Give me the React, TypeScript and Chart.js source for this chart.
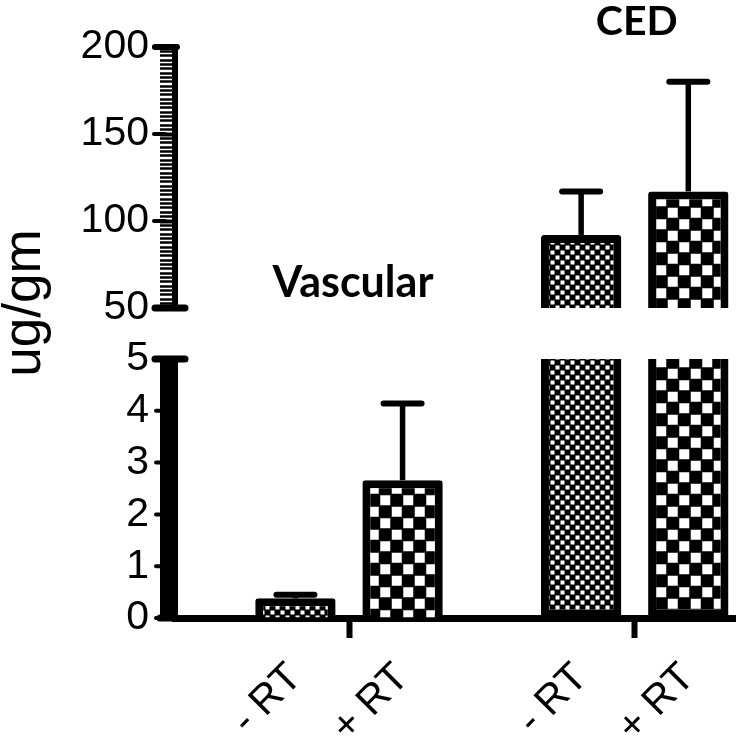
import React, { useEffect, useRef } from 'react';
import { Chart, registerables } from 'chart.js';

Chart.register(...registerables);

// ---- data ----
const groups = ['Vascular', 'CED'];
const seriesLabels = ['- RT', '+ RT'];
const minusRT = [0.38, 92];
const plusRT = [2.66, 117];
const minusRTErr = [0.07, 25];
const plusRTErr = [1.48, 63];
const lowTicks = [0, 1, 2, 3, 4, 5];
const highTicks = [50, 100, 150, 200];
const yTitle = 'ug/gm';

// ---- axis ranges ----
const LOW_MIN = 0;
const LOW_MAX = 5;
const HIGH_MIN = 50;
const HIGH_MAX = 200;
const LOW_MINOR_PER_UNIT = 20;
const HIGH_MINOR_STEP = 2.5;

// ---- layout ----
const X_MIN = -0.609;
const X_MAX = 1.351;
const CAT_PCT = 0.75;
const BAR_PCT = 0.75;

function makePattern(cell: number, dot: number): CanvasPattern | string {
  const c = document.createElement('canvas');
  const size = Math.round(cell * 2);
  c.width = size;
  c.height = size;
  const g = c.getContext('2d');
  if (!g) return '#000';
  g.fillStyle = '#000';
  g.fillRect(0, 0, size, size);
  g.fillStyle = '#fff';
  const m = (cell - dot) / 2;
  g.fillRect(m, m, dot, dot);
  g.fillRect(cell + m, cell + m, dot, dot);
  return g.createPattern(c, 'repeat') || '#000';
}

export default function App() {
  const ref = useRef<HTMLCanvasElement | null>(null);

  useEffect(() => {
    if (!ref.current) return;
    const fine = makePattern(5, 4);
    const coarse = makePattern(11.5, 10);
    const series = [
      { label: seriesLabels[0], values: minusRT, errors: minusRTErr, pattern: fine },
      { label: seriesLabels[1], values: plusRT, errors: plusRTErr, pattern: coarse },
    ];

    const datasets: any[] = [];
    series.forEach((s, si) => {
      const common = {
        label: s.label,
        stack: 's' + si,
        xAxisID: 'x',
        backgroundColor: s.pattern,
        borderColor: '#000',
        borderWidth: 8,
        borderRadius: 3,
        categoryPercentage: CAT_PCT,
        barPercentage: BAR_PCT,
      };
      datasets.push({
        ...common,
        yAxisID: 'yLow',
        data: s.values.map((v, i) => ({ x: i, y: Math.min(v, LOW_MAX) })),
        borderSkipped: (c: any) => (s.values[c.dataIndex] > LOW_MAX ? 'top' : 'bottom'),
      });
      datasets.push({
        ...common,
        yAxisID: 'yHigh',
        data: s.values.map((v, i) => ({ x: i, y: v > HIGH_MIN ? [HIGH_MIN, v] : null })),
        borderSkipped: 'bottom',
      });
    });

    const barCenters: number[] = [];
    const barLabels: string[] = [];
    groups.forEach((_, gi) => {
      series.forEach((s, si) => {
        barCenters.push(gi + (si - (series.length - 1) / 2) * (CAT_PCT / series.length));
        barLabels.push(s.label);
      });
    });

    const tickFont = { family: '"Liberation Sans", Arial, sans-serif', size: 41 };
    const isMajor = (v: number) => lowTicks.includes(v) || highTicks.includes(v);
    const makeGrid = (minorW: number) => ({
      display: true,
      drawOnChartArea: false,
      drawTicks: true,
      tickLength: 15,
      color: '#000',
      tickColor: '#000',
      tickWidth: (c: any) => (c.tick && isMajor(c.tick.value) ? 4 : minorW),
    });

    const decor = {
      id: 'decor',
      afterDatasetsDraw(chart: any) {
        const ctx = chart.ctx;
        const yLow = chart.scales.yLow;
        const yHigh = chart.scales.yHigh;
        ctx.save();
        ctx.strokeStyle = '#000';
        series.forEach((s, si) => {
          s.values.forEach((v, i) => {
            const hi = v > LOW_MAX;
            const meta = chart.getDatasetMeta(si * 2 + (hi ? 1 : 0));
            const el = meta.data[i];
            if (!el) return;
            const sc = hi ? yHigh : yLow;
            const yTop = sc.getPixelForValue(v);
            const yE = sc.getPixelForValue(v + s.errors[i]);
            ctx.lineWidth = 5.5;
            ctx.lineCap = 'butt';
            ctx.beginPath();
            ctx.moveTo(el.x, yTop);
            ctx.lineTo(el.x, yE);
            ctx.stroke();
            ctx.lineWidth = 6;
            ctx.lineCap = 'round';
            ctx.beginPath();
            ctx.moveTo(el.x - 19, yE);
            ctx.lineTo(el.x + 19, yE);
            ctx.stroke();
          });
        });
        ctx.restore();
      },
      afterDraw(chart: any) {
        const ctx = chart.ctx;
        const yLow = chart.scales.yLow;
        const yHigh = chart.scales.yHigh;
        const xs = chart.scales.x;
        const L = chart.chartArea.left;
        ctx.save();
        ctx.strokeStyle = '#000';
        ctx.fillStyle = '#000';
        ctx.lineCap = 'round';
        // major tick knobs
        ctx.lineWidth = 4;
        highTicks.forEach((v) => {
          const py = yHigh.getPixelForValue(v);
          ctx.beginPath();
          ctx.moveTo(L - 21, py);
          ctx.lineTo(L - 10, py);
          ctx.stroke();
        });
        lowTicks.forEach((v) => {
          const py = yLow.getPixelForValue(v);
          ctx.beginPath();
          ctx.moveTo(L - 19, py);
          ctx.lineTo(L - 10, py);
          ctx.stroke();
        });
        // x axis extension to the left
        ctx.lineWidth = 7;
        const p0 = yLow.getPixelForValue(LOW_MIN);
        ctx.beginPath();
        ctx.moveTo(L - 15, p0);
        ctx.lineTo(L, p0);
        ctx.stroke();
        // break caps
        ctx.lineWidth = 7;
        [yHigh.getPixelForValue(HIGH_MIN), yLow.getPixelForValue(LOW_MAX)].forEach((py) => {
          ctx.beginPath();
          ctx.moveTo(L - 20, py);
          ctx.lineTo(L + 10, py);
          ctx.stroke();
        });
        ctx.lineWidth = 6;
        const pTop = yHigh.getPixelForValue(HIGH_MAX);
        ctx.beginPath();
        ctx.moveTo(L - 20, pTop);
        ctx.lineTo(L + 2, pTop);
        ctx.stroke();
        // group titles
        ctx.textAlign = 'center';
        ctx.textBaseline = 'middle';
        ctx.font = '700 43px Lato';
        ctx.fillText(groups[0], xs.getPixelForValue(0) + 4, yHigh.getPixelForValue(HIGH_MIN) - 25);
        ctx.font = '700 41px Lato';
        ctx.fillText(groups[1], xs.getPixelForValue(1) + 2, chart.chartArea.top - 25);
        // y title
        ctx.translate(25, chart.chartArea.top + 256);
        ctx.rotate(-Math.PI / 2);
        ctx.font = '53px "Liberation Sans"';
        ctx.fillText(yTitle, 0, 0);
        ctx.restore();
      },
    };

    const chart = new Chart(ref.current, {
      type: 'bar',
      data: { datasets },
      options: {
        animation: false,
        responsive: false,
        devicePixelRatio: 1,
        layout: { padding: { left: 0, right: 14, top: 47, bottom: 0 } },
        plugins: { legend: { display: false }, tooltip: { enabled: false } },
        scales: {
          x: {
            type: 'linear',
            position: 'bottom',
            min: X_MIN,
            max: X_MAX,
            offset: false,
            grid: { display: true, offset: false, drawOnChartArea: false, drawTicks: true, tickLength: 20, tickWidth: 6, tickColor: '#000', color: '#000' },
            border: { display: true, width: 7, color: '#000' },
            ticks: { display: false },
            afterBuildTicks: (s: any) => { s.ticks = groups.map((_, i) => ({ value: i })); },
            afterFit: (s: any) => { s.height = 20; },
          },
          x2: {
            type: 'linear',
            position: 'bottom',
            min: X_MIN,
            max: X_MAX,
            offset: false,
            grid: { display: false },
            border: { display: false },
            ticks: {
              autoSkip: false,
              minRotation: 45,
              maxRotation: 45,
              padding: 8,
              color: '#000',
              font: { family: '"Liberation Sans", Arial, sans-serif', size: 41 },
              callback: (_v: any, i: number) => barLabels[i],
            },
            afterBuildTicks: (s: any) => { s.ticks = barCenters.map((v) => ({ value: v })); },
            afterFit: (s: any) => { s.height = 100; },
          },
          yLow: {
            type: 'linear',
            position: 'left',
            stack: 'y',
            stackWeight: 259,
            min: LOW_MIN,
            max: LOW_MAX,
            stacked: false,
            beginAtZero: false,
            grid: makeGrid(3.5),
            border: { display: true, width: 6, color: '#000' },
            ticks: {
              autoSkip: false,
              padding: 11,
              color: '#000',
              font: tickFont,
              callback: (v: any) => (lowTicks.includes(v) ? String(v) : ''),
            },
            afterBuildTicks: (s: any) => {
              const t: any[] = [];
              for (let i = LOW_MIN * LOW_MINOR_PER_UNIT; i <= LOW_MAX * LOW_MINOR_PER_UNIT; i++) t.push({ value: i / LOW_MINOR_PER_UNIT });
              s.ticks = t;
            },
            afterFit: (s: any) => { s.width = 175; },
          },
          yGap: {
            type: 'linear',
            position: 'left',
            stack: 'y',
            stackWeight: 51,
            min: 0,
            max: 1,
            grid: { display: false },
            border: { display: false },
            ticks: { display: false },
            afterFit: (s: any) => { s.width = 175; },
          },
          yHigh: {
            type: 'linear',
            position: 'left',
            stack: 'y',
            stackWeight: 261,
            min: HIGH_MIN,
            max: HIGH_MAX,
            stacked: false,
            beginAtZero: false,
            grid: makeGrid(2.5),
            border: { display: true, width: 6, color: '#000' },
            ticks: {
              autoSkip: false,
              padding: 11,
              color: '#000',
              font: tickFont,
              callback: (v: any) => (highTicks.includes(v) ? String(v) : ''),
            },
            afterBuildTicks: (s: any) => {
              const t: any[] = [];
              for (let v = HIGH_MIN; v <= HIGH_MAX + 1e-9; v += HIGH_MINOR_STEP) t.push({ value: Math.round(v * 10) / 10 });
              s.ticks = t;
            },
            afterFit: (s: any) => { s.width = 175; },
          },
        } as any,
      },
      plugins: [decor],
    } as any);

    return () => chart.destroy();
  }, []);

  return (
    <div style={{ position: 'absolute', left: 0, top: 0, width: 749, height: 738, background: '#fff' }}>
      <canvas ref={ref} width={749} height={738} style={{ display: 'block' }} />
    </div>
  );
}
